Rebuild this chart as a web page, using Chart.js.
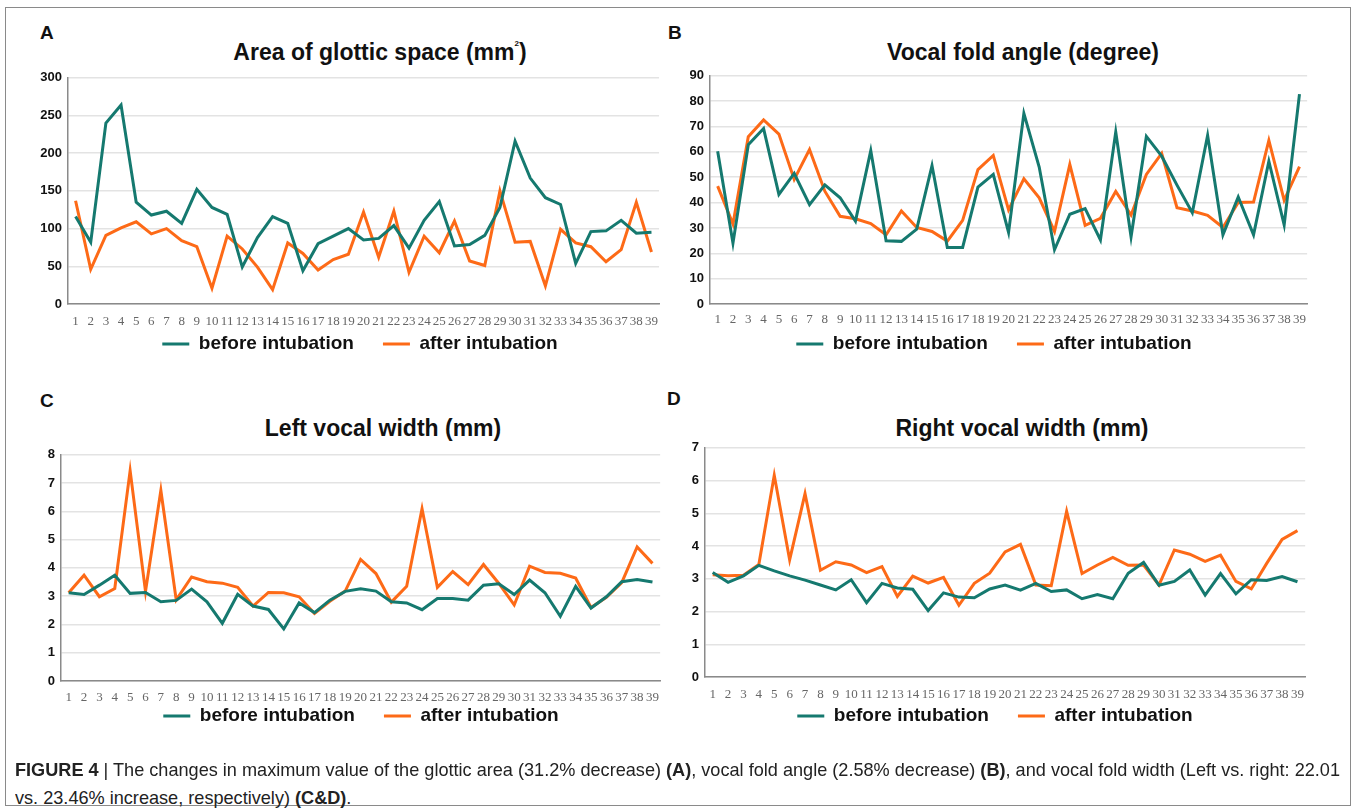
<!DOCTYPE html>
<html>
<head>
<meta charset="utf-8">
<script src="https://cdn.jsdelivr.net/npm/chart.js@4.4.1/dist/chart.umd.min.js"></script>
<style>
html,body{margin:0;padding:0;background:#fff;}
body{width:1357px;height:812px;position:relative;overflow:hidden;font-family:"Liberation Sans",Arial,sans-serif;color:#111;}
.frame{position:absolute;left:5px;top:7px;width:1346px;height:799px;border:1px solid #8a8a8a;box-sizing:border-box;}
.panel{position:absolute;}
.panel canvas{display:block;}
.letter{position:absolute;font-weight:bold;font-size:19px;line-height:1;}
.title{position:absolute;font-weight:bold;font-size:23px;line-height:1;transform:translate(-50%,-50%);white-space:nowrap;}
.title sup{font-size:8px;vertical-align:top;position:relative;top:-1px;}
.caption{position:absolute;left:15px;font-size:19px;line-height:1;white-space:nowrap;color:#222;transform-origin:0 50%;}
</style>
</head>
<body>
<div class="frame"></div>

<div class="letter" style="left:40px;top:23px;">A</div>
<div class="letter" style="left:668px;top:23px;">B</div>
<div class="letter" style="left:40px;top:391px;">C</div>
<div class="letter" style="left:667px;top:389px;">D</div>

<div class="title" style="left:380px;top:52px;">Area of glottic space (mm<sup>2</sup>)</div>
<div class="title" style="left:1023px;top:52px;">Vocal fold angle (degree)</div>
<div class="title" style="left:383px;top:428px;">Left vocal width (mm)</div>
<div class="title" style="left:1022px;top:428px;">Right vocal width (mm)</div>

<div class="panel" id="pA"><canvas></canvas></div>
<div class="panel" id="pB"><canvas></canvas></div>
<div class="panel" id="pC"><canvas></canvas></div>
<div class="panel" id="pD"><canvas></canvas></div>

<div class="caption" id="cap1" style="top:760px;"><b>FIGURE 4</b> | The changes in maximum value of the glottic area (31.2% decrease) <b>(A)</b>, vocal fold angle (2.58% decrease) <b>(B)</b>, and vocal fold width (Left vs. right: 22.01</div>
<div class="caption" id="cap2" style="top:788px;">vs. 23.46% increase, respectively) <b>(C&amp;D)</b>.</div>

<script>
// ---------- data ----------
const categories = ['1','2','3','4','5','6','7','8','9','10','11','12','13','14','15','16','17','18','19','20',
  '21','22','23','24','25','26','27','28','29','30','31','32','33','34','35','36','37','38','39'];
const seriesNames = ['before intubation', 'after intubation'];

const areaBefore = [116,82,240,264,135,118,123,107,152,128,119,49,88,116,107,44,80,90,100,85,87,104,74,111,136,77,79,91,128,216,167,141,132,54,96,97,111,94,95];
const areaAfter  = [137,46,91,101,109,93,100,84,76,21,90,73,49,19,81,67,45,59,66,122,62,123,42,90,68,110,57,51,150,82,83,24,99,81,76,56,72,135,69];

const angleBefore = [60.2,24,62.8,69.2,43.2,51.5,39.2,47,41.9,32.7,60.5,24.9,24.7,29.5,54.6,22.3,22.3,46.1,51.1,28.2,75.2,54,21.4,35.4,37.6,25.3,67.8,26.5,66.1,58.3,46.9,36,66.5,27.3,42.2,27.3,56.3,31.2,82.8];
const angleAfter  = [46.5,31.5,66,72.6,67,49.1,60.9,44.5,34.6,33.6,31.7,27.3,36.7,30.2,28.6,24.8,33,53,58.6,37.1,49.4,41.9,28.6,55,31,33.8,44.4,35.1,51.1,59.4,38,36.7,35,30.2,40,40.2,64.5,40.9,54.2];

const leftBefore = [3.12,3.06,3.39,3.74,3.1,3.13,2.8,2.85,3.25,2.8,2.04,3.07,2.65,2.53,1.84,2.76,2.42,2.86,3.17,3.26,3.18,2.8,2.76,2.52,2.92,2.92,2.86,3.39,3.44,3.06,3.57,3.12,2.29,3.35,2.58,2.98,3.51,3.59,3.5];
const leftAfter  = [3.12,3.74,2.98,3.27,7.44,3.17,6.74,2.87,3.68,3.51,3.46,3.31,2.65,3.13,3.12,2.98,2.39,2.82,3.18,4.3,3.8,2.79,3.35,6.09,3.31,3.87,3.41,4.12,3.45,2.69,4.06,3.84,3.81,3.64,2.6,2.96,3.48,4.74,4.16];

const rightBefore = [3.19,2.89,3.09,3.41,3.24,3.09,2.96,2.81,2.66,2.97,2.27,2.86,2.72,2.68,2.03,2.57,2.44,2.42,2.69,2.81,2.65,2.86,2.61,2.66,2.39,2.52,2.39,3.17,3.5,2.8,2.92,3.27,2.5,3.16,2.54,2.97,2.95,3.07,2.91];
const rightAfter  = [3.12,3.09,3.11,3.44,6.16,3.58,5.6,3.26,3.52,3.42,3.19,3.37,2.46,3.08,2.87,3.04,2.19,2.86,3.17,3.82,4.05,2.81,2.79,5.06,3.16,3.42,3.65,3.41,3.42,2.81,3.88,3.75,3.53,3.72,2.92,2.69,3.47,4.2,4.47];

// ---------- style ----------
const TEAL = '#15796f';
const ORANGE = '#fd6a17';
const Y_AXIS_W = 50;
const X_AXIS_H = 30;
const PAD_TOP = 12;
const LEG_FONT = 19;
const LEG_PAD = 29;

// places the legend box (centred on cx, text centre at cy; canvas coordinates)
const legendPlace = {
  id: 'legendPlace',
  afterLayout(chart, args, opts) {
    const lg = chart.legend;
    if (!lg || opts.cx == null) return;
    const w = lg.width, h = lg.height;
    lg.left = opts.cx - w / 2;
    lg.right = lg.left + w;
    lg.top = opts.cy - (LEG_PAD + LEG_FONT / 2);
    lg.bottom = lg.top + h;
  }
};

function makeChart(cfg) {
  const wrap = document.getElementById(cfg.id);
  const canvas = wrap.querySelector('canvas');
  const left = cfg.area.l - Y_AXIS_W;
  const top = cfg.area.t - PAD_TOP;
  wrap.style.left = left + 'px';
  wrap.style.top = top + 'px';
  wrap.style.width = (cfg.area.r - left) + 'px';
  wrap.style.height = (cfg.area.b - top + X_AXIS_H + 80) + 'px';

  const chart = new Chart(canvas, {
    type: 'line',
    data: {
      labels: categories,
      datasets: [
        { label: seriesNames[0], data: cfg.before, borderColor: TEAL, backgroundColor: TEAL,
          borderWidth: 3, pointRadius: 0, tension: 0, fill: false },
        { label: seriesNames[1], data: cfg.after, borderColor: ORANGE, backgroundColor: ORANGE,
          borderWidth: 3, pointRadius: 0, tension: 0, fill: false }
      ]
    },
    plugins: [legendPlace],
    options: {
      responsive: true,
      maintainAspectRatio: false,
      animation: false,
      devicePixelRatio: 1,
      layout: { padding: { top: PAD_TOP, right: 0, left: 0, bottom: 0 } },
      plugins: {
        title: { display: false },
        tooltip: { enabled: false },
        legendPlace: { cx: cfg.legend.cx - left, cy: cfg.legend.cy - top },
        legend: {
          display: true,
          position: 'bottom',
          labels: {
            usePointStyle: true,
            pointStyle: 'line',
            pointStyleWidth: 27,
            padding: LEG_PAD,
            color: '#111',
            font: { family: '"Liberation Sans", Arial, sans-serif', size: LEG_FONT, weight: 'bold' }
          }
        }
      },
      scales: {
        x: {
          type: 'category',
          offset: true,
          grid: { display: false, drawTicks: false },
          border: { display: true, color: '#8a8a8a', width: 1.5 },
          ticks: {
            autoSkip: false, maxRotation: 0, minRotation: 0, padding: cfg.xPad,
            color: '#666',
            font: { family: '"Liberation Serif", "DejaVu Serif", serif', size: 13 }
          },
          afterFit: s => { s.height = X_AXIS_H; }
        },
        y: {
          min: 0, max: cfg.yMax,
          grid: { color: '#e3e3e3', lineWidth: 1.5, drawTicks: false },
          border: { display: true, color: '#8a8a8a', width: 1.5 },
          ticks: {
            stepSize: cfg.yStep, padding: 6, color: '#111',
            font: { family: '"Liberation Sans", Arial, sans-serif', size: 13, weight: 'bold' }
          },
          afterFit: s => { s.width = Y_AXIS_W; }
        }
      }
    }
  });
  const lh = chart.legend.height;
  wrap.style.height = (cfg.area.b - top + X_AXIS_H + lh) + 'px';
  chart.resize();
  return chart;
}

makeChart({ id: 'pA', area: { l: 68, t: 76, r: 668, b: 304 }, legend: { cx: 360, cy: 344 }, xPad: 10,
  before: areaBefore, after: areaAfter, yMax: 300, yStep: 50 });
makeChart({ id: 'pB', area: { l: 710, t: 74, r: 1314, b: 304 }, legend: { cx: 994, cy: 344 }, xPad: 8,
  before: angleBefore, after: angleAfter, yMax: 90, yStep: 10 });
makeChart({ id: 'pC', area: { l: 61, t: 453, r: 668, b: 681 }, legend: { cx: 361, cy: 716 }, xPad: 9,
  before: leftBefore, after: leftAfter, yMax: 8, yStep: 1 });
makeChart({ id: 'pD', area: { l: 705, t: 446, r: 1314, b: 677 }, legend: { cx: 995, cy: 716 }, xPad: 10,
  before: rightBefore, after: rightAfter, yMax: 7, yStep: 1 });

// fit caption line 1 to the reference width
(function () {
  const c1 = document.getElementById('cap1');
  const c2 = document.getElementById('cap2');
  const w = c1.getBoundingClientRect().width;
  const s = 1325 / w;
  c1.style.transform = 'scaleX(' + s + ')';
  c2.style.transform = 'scaleX(' + s + ')';
})();
</script>
</body>
</html>
